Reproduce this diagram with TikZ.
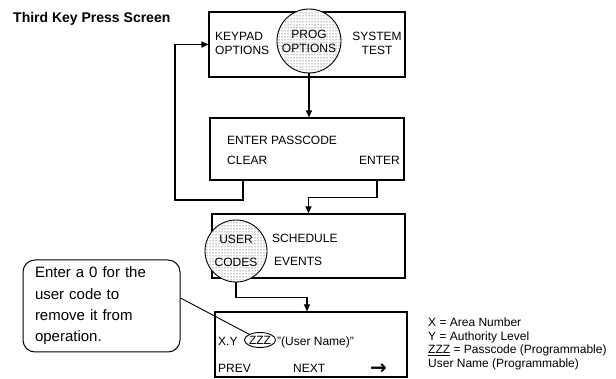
\documentclass[tikz,border=0pt]{standalone}
\usepackage{fontspec}
\setmainfont{Liberation Sans}
\newfontfamily\arrowfont{DejaVu Sans}
\usetikzlibrary{arrows.meta}
\usetikzlibrary{patterns}
\usetikzlibrary{shapes}
\tikzset{
  screen/.style={draw, line width=1.1pt, inner sep=0pt},
  keyring/.style={circle, draw, line width=0.9pt, inner sep=0pt, minimum size=#1, preaction={fill=white}, pattern=dots, pattern color=black!85, align=center},
  keytext/.style={font=\fontsize{12}{14}\selectfont, inner sep=0pt},
  legend/.style={anchor=base west, inner sep=0pt, font=\fontsize{12}{13}\selectfont},
  flow/.style={line width=1.1pt, -{Triangle[length=7pt,width=6pt]}},
}

\begin{document}
\begin{tikzpicture}[x=1pt,y=-1pt]
        \useasboundingbox (0,0) rectangle (616,379);
        % title
        \node[anchor=base west, inner sep=0pt, font=\fontsize{14}{16}\selectfont\bfseries] (title) at (13,23) {Third Key Press Screen};
        % screen1
        \node[screen, minimum width=196pt, minimum height=65pt] (menu) at (307,44.5) {};
        \node[keytext, anchor=west, align=left] (keypad) at (215,43) {KEYPAD\\OPTIONS};
        \node[keyring=64pt, keytext] (prog) at (309,41) {PROG\\OPTIONS};
        \node[keytext, align=center] (system) at (377,43) {SYSTEM\\TEST};
        % screen2
        \node[screen, minimum width=194pt, minimum height=62pt] (pass) at (307,149) {};
        \node[keytext, anchor=base west] (enterpass) at (227,145) {ENTER PASSCODE};
        \node[keytext, anchor=base west] (clear) at (227,165) {CLEAR};
        \node[keytext, anchor=base east] (enter) at (400,165) {ENTER};
        % screen3
        \node[screen, minimum width=193pt, minimum height=64pt] (codes) at (308.5,246) {};
        \node[keyring=62pt, font=\fontsize{12}{23}\selectfont] (user) at (236,251) {USER\\CODES};
        \node[keytext, anchor=base west] (schedule) at (272,243) {SCHEDULE};
        \node[keytext, anchor=base west] (events) at (274,266) {EVENTS};
        % screen4
        \node[screen, minimum width=192pt, minimum height=65pt] (list) at (311,344.5) {};
        \node[keytext, anchor=base west] (xy) at (218,345) {X.Y};
        \node[keytext, ellipse, draw, line width=0.9pt, minimum width=28pt, minimum height=15pt] (zzz) at (260,340) {ZZZ};
        \node[keytext, anchor=base west] (uname) at (277,345) {"(User Name)"};
        \node[keytext, anchor=base west] (prev) at (218,373) {PREV};
        \node[keytext, anchor=base west] (next) at (293,373) {NEXT};
        \node[keytext, anchor=base west, font=\arrowfont\bfseries\fontsize{20}{20}\selectfont] (more) at (370,374) {→};
        % note
        \node[draw, line width=1pt, rounded corners=12pt, minimum width=157pt, minimum height=92pt, text width=133pt, inner xsep=12pt, inner ysep=0pt, align=left, font=\fontsize{15}{21.3}\selectfont] (note) at (101.5,306) {Enter a 0 for the\\user code to\\remove it from\\operation.};
        % legend
        \node[legend] (legx) at (428,327) {X = Area Number};
        \node[legend] (legy) at (428,341) {Y = Authority Level};
        \node[legend] (legz) at (428,354) {\underline{ZZZ} = Passcode (Programmable)};
        \node[legend] (legn) at (428,367) {User Name (Programmable)};
        % links
        \coordinate (loopcorner) at (175,200);
        \draw[flow] (prog.south) -- (prog.south |- pass.north);
        \draw[flow] ([xshift=-64pt]pass.south) |- (loopcorner) |- (menu.west);
        \draw[flow] ([xshift=70pt]pass.south) -- ++(0,17) -| (codes.north);
        \draw[flow] (user.south) -- ++(0,15) -| ([xshift=-4pt]list.north);
        \draw[line width=0.9pt] ([yshift=8pt]note.east) -- (zzz);
    \end{tikzpicture}
\end{document}
